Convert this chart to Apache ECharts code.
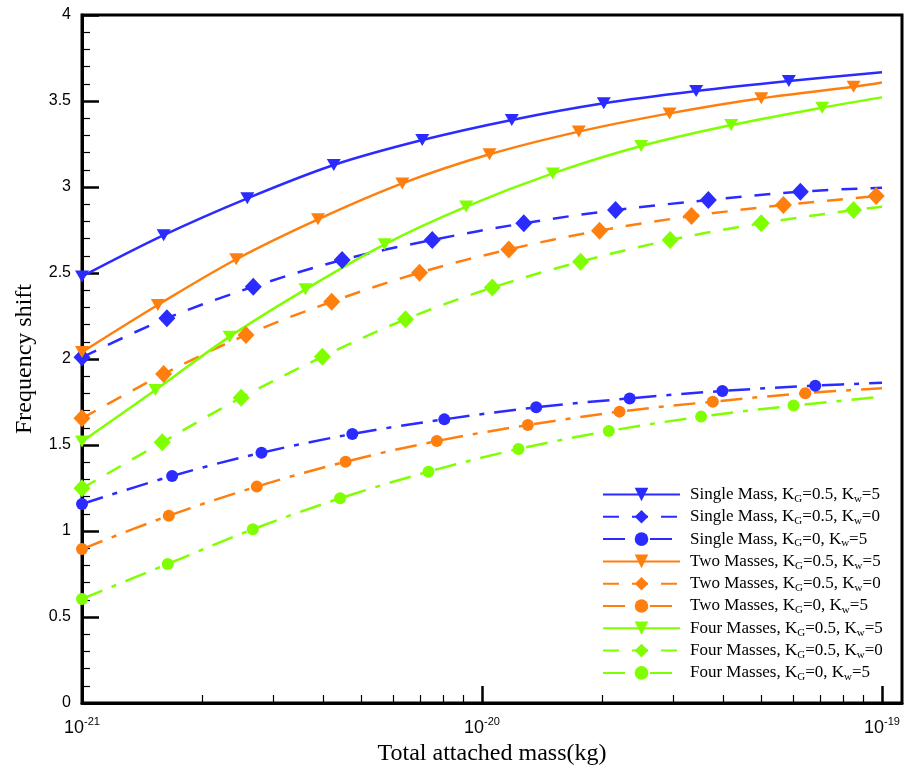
<!DOCTYPE html>
<html><head><meta charset="utf-8">
<script src="https://cdn.jsdelivr.net/npm/echarts@6/dist/echarts.min.js"></script>
<style>html,body{margin:0;padding:0;background:#fff}#c{width:921px;height:772px}</style>
</head><body><div id="c"></div>
<script>
// ---------- data ----------
const names = [
  'Single Mass, KG=0.5, Kw=5', 'Single Mass, KG=0.5, Kw=0', 'Single Mass, KG=0, Kw=5',
  'Two Masses, KG=0.5, Kw=5', 'Two Masses, KG=0.5, Kw=0', 'Two Masses, KG=0, Kw=5',
  'Four Masses, KG=0.5, Kw=5', 'Four Masses, KG=0.5, Kw=0', 'Four Masses, KG=0, Kw=5'
];
// marker points: attached mass (kg) and frequency shift
const mass1 = [1e-21, 1.60e-21, 2.59e-21, 4.26e-21, 7.09e-21, 1.187e-20, 2.016e-20, 3.43e-20, 5.85e-20];
const shift1 = [2.48, 2.72, 2.934, 3.128, 3.273, 3.39, 3.487, 3.558, 3.616];
const mass2 = [1e-21, 1.63e-21, 2.68e-21, 4.47e-21, 7.51e-21, 1.272e-20, 2.157e-20, 3.68e-20, 6.25e-20];
const shift2 = [2.01, 2.237, 2.42, 2.576, 2.692, 2.789, 2.866, 2.924, 2.973];
const mass3 = [1e-21, 1.68e-21, 2.81e-21, 4.74e-21, 8.05e-21, 1.366e-20, 2.34e-20, 3.99e-20, 6.81e-20];
const shift3 = [1.157, 1.32, 1.455, 1.564, 1.649, 1.719, 1.771, 1.814, 1.845];
const mass4 = [1e-21, 1.547e-21, 2.43e-21, 3.89e-21, 6.32e-21, 1.044e-20, 1.746e-20, 2.943e-20, 4.99e-20, 8.49e-20];
const shift4 = [2.04, 2.314, 2.58, 2.812, 3.021, 3.19, 3.322, 3.428, 3.516, 3.583];
const mass5 = [1e-21, 1.60e-21, 2.57e-21, 4.21e-21, 6.98e-21, 1.167e-20, 1.967e-20, 3.34e-20, 5.67e-20, 9.67e-20];
const shift5 = [1.655, 1.913, 2.14, 2.333, 2.502, 2.637, 2.746, 2.831, 2.895, 2.948];
const mass6 = [1e-21, 1.648e-21, 2.735e-21, 4.56e-21, 7.71e-21, 1.302e-20, 2.207e-20, 3.776e-20, 6.43e-20];
const shift6 = [0.895, 1.089, 1.258, 1.403, 1.523, 1.616, 1.694, 1.752, 1.801];
const mass7 = [1e-21, 1.526e-21, 2.34e-21, 3.62e-21, 5.71e-21, 9.13e-21, 1.503e-20, 2.50e-20, 4.20e-20, 7.09e-20];
const shift7 = [1.52, 1.82, 2.13, 2.405, 2.667, 2.886, 3.079, 3.238, 3.36, 3.461];
const mass8 = [1e-21, 1.587e-21, 2.50e-21, 3.99e-21, 6.44e-21, 1.061e-20, 1.764e-20, 2.954e-20, 4.99e-20, 8.49e-20];
const shift8 = [1.248, 1.516, 1.775, 2.013, 2.231, 2.415, 2.566, 2.692, 2.789, 2.866];
const mass9 = [1e-21, 1.638e-21, 2.673e-21, 4.42e-21, 7.35e-21, 1.234e-20, 2.075e-20, 3.53e-20, 6.01e-20];
const shift9 = [0.605, 0.808, 1.01, 1.19, 1.345, 1.477, 1.581, 1.665, 1.729];
// line end points (no marker)
const endMass = [1e-19, 1e-19, 1e-19, 1e-19, 1e-19, 1e-19, 1e-19, 1e-19, 1e-19];
const endShift = [3.667, 2.996, 1.862, 3.608, 2.952, 1.83, 3.521, 2.885, 1.781];
// axis ticks
const xMajorTicks = [1e-21, 1e-20, 1e-19];
const xMinorTicks = [2e-21, 3e-21, 4e-21, 5e-21, 6e-21, 7e-21, 8e-21, 9e-21,
                     2e-20, 3e-20, 4e-20, 5e-20, 6e-20, 7e-20, 8e-20, 9e-20];
const yTicks = [0, 0.5, 1, 1.5, 2, 2.5, 3, 3.5, 4];

// ---------- styles ----------
const masses = [mass1, mass2, mass3, mass4, mass5, mass6, mass7, mass8, mass9];
const shifts = [shift1, shift2, shift3, shift4, shift5, shift6, shift7, shift8, shift9];
const colors = ['#2b2bff', '#ff7f0e', '#7fff00'];
const kinds = [
  {symbol: 'triangle', size: [14, 12], rotate: 180, dash: 'solid'},
  {symbol: 'diamond', size: [17, 18], rotate: 0, dash: [16, 13]},
  {symbol: 'circle', size: 12, rotate: 0, dash: [22, 10, 5, 10]}
];
const X_MAX = 1.122e-19;
const serif = 'Liberation Serif';
const sans = 'Liberation Sans';

const series = masses.map((mx, i) => {
  const k = kinds[i % 3];
  const color = colors[Math.floor(i / 3)];
  const data = mx.map((m, j) => [m, shifts[i][j]]);
  data.push({value: [endMass[i], endShift[i]], symbol: 'none'});
  return {
    name: names[i], type: 'line', xAxisIndex: 0, yAxisIndex: 0,
    data: data, smooth: 0.35, clip: false, showAllSymbol: true,
    symbol: k.symbol, symbolSize: k.size, symbolRotate: k.rotate,
    lineStyle: {color: color, width: 2.5, type: k.dash},
    itemStyle: {color: color},
    emphasis: {disabled: true}
  };
});

const chart = echarts.init(document.getElementById('c'), null, {renderer: 'canvas'});
chart.setOption({
  animation: false,
  backgroundColor: '#fff',
  grid: {left: 82, right: 19, top: 15, bottom: 69, show: true, borderColor: '#000', borderWidth: 3,
         outerBoundsMode: 'none', containLabel: false},
  xAxis: [{
    type: 'log', logBase: 10, min: 1e-21, max: X_MAX, position: 'bottom',
    axisLine: {show: true, onZero: false, lineStyle: {color: '#000', width: 3}},
    axisTick: {show: true, inside: true, length: 17, customValues: xMajorTicks, lineStyle: {color: '#000', width: 2.5}},
    minorTick: {show: false},
    splitLine: {show: false},
    axisLabel: {
      customValues: xMajorTicks, margin: 13, color: '#000',
      formatter: v => '{b|10}{s|' + Math.round(Math.log10(v)) + '}',
      rich: {
        b: {fontSize: 18, fontFamily: sans, color: '#000'},
        s: {fontSize: 11, fontFamily: sans, color: '#000', padding: [0, 0, 13, 0]}
      }
    },
    name: 'Total attached mass(kg)', nameLocation: 'middle', nameGap: 38,
    nameTextStyle: {fontFamily: serif, fontSize: 24, color: '#000'}
  }, {
    type: 'log', logBase: 10, min: 1e-21, max: X_MAX, position: 'bottom', offset: 0,
    axisLine: {show: false},
    axisTick: {show: true, inside: true, length: 8, customValues: xMinorTicks, lineStyle: {color: '#000', width: 1.2}},
    axisLabel: {show: false},
    splitLine: {show: false}
  }],
  yAxis: {
    type: 'value', min: yTicks[0], max: yTicks[yTicks.length - 1], interval: 0.5,
    axisLine: {show: true, lineStyle: {color: '#000', width: 3}},
    axisTick: {show: true, inside: true, length: 17, lineStyle: {color: '#000', width: 2.5}},
    minorTick: {show: true, splitNumber: 5, length: 8, lineStyle: {color: '#000', width: 1.2}},
    splitLine: {show: false},
    axisLabel: {color: '#000', fontSize: 16, fontFamily: sans, margin: 11},
    name: 'Frequency shift', nameLocation: 'middle', nameGap: 45,
    nameTextStyle: {fontFamily: serif, fontSize: 24, color: '#000'}
  },
  legend: {
    orient: 'vertical', left: 597, top: 481, itemWidth: 77, itemHeight: 17, itemGap: 3.8,
    selectedMode: false, data: names,
    formatter: n => '{t|' + n.replace(/K([Gw])/g, '}{t|K}{s|$1}{t|') + '}',
    textStyle: {
      color: '#000', fontFamily: serif, fontSize: 17, padding: [0, 0, 0, 5],
      rich: {
        t: {fontSize: 17, fontFamily: serif, color: '#000'},
        s: {fontSize: 11, fontFamily: serif, color: '#000', padding: [9, 0, 0, 0]}
      }
    }
  },
  series: series
});
</script>
</body></html>
